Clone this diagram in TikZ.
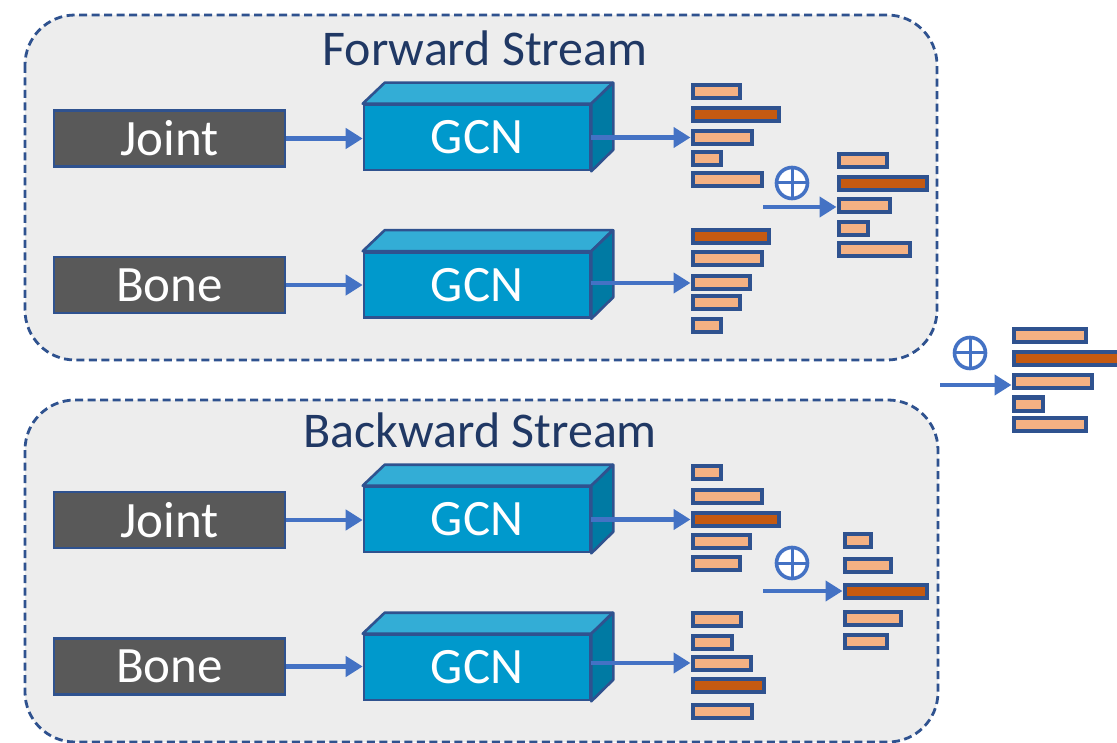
\documentclass[tikz,border=0pt]{standalone}
\usepackage{fontspec}
\setmainfont{Carlito}
\usetikzlibrary{arrows.meta}
\definecolor{framefill}{HTML}{EDEDED}
\definecolor{framedraw}{HTML}{2F528F}
\definecolor{titlecol}{HTML}{203864}
\definecolor{boxgray}{HTML}{595959}
\definecolor{lightbar}{HTML}{F4B183}
\definecolor{darkbar}{HTML}{C55A11}
\definecolor{arrowblue}{HTML}{4472C4}
\definecolor{gcnfront}{HTML}{0099CC}
\definecolor{gcntop}{HTML}{33ADD6}
\definecolor{gcnside}{HTML}{007AA3}
\tikzset{
  streamframe/.style={draw=framedraw, fill=framefill, line width=2.8pt, dash pattern=on 8pt off 4.5pt, rounded corners=50pt},
  streamtitle/.style={text=titlecol, font=\fontsize{50}{60}\selectfont, inner sep=0pt},
  inbox/.style={draw=framedraw, fill=boxgray, line width=2.6pt, minimum width=231pt, minimum height=56pt, inner sep=0pt, text=white, font=\fontsize{51}{60}\selectfont},
  gcnbox/.style={draw=framedraw, fill=gcnfront, line width=2.6pt, minimum width=226pt, minimum height=65pt, inner sep=0pt, text=white, font=\fontsize{51}{60}\selectfont},
  gcntopface/.style={draw=framedraw, fill=gcntop, line width=2.6pt, line join=round},
  gcnsideface/.style={draw=framedraw, fill=gcnside, line width=2.6pt, line join=round},
  lbar/.style={draw=framedraw, fill=lightbar, line width=4pt, minimum height=13pt, inner sep=0pt},
  dbar/.style={lbar, fill=darkbar},
  flow/.style={draw=arrowblue, line width=4.6pt, -{Triangle[length=17pt,width=20pt]}},
  oplus/.style={circle, draw=arrowblue, fill=white, line width=3.6pt, minimum size=31pt, inner sep=0pt,
    path picture={\draw[arrowblue, line width=3pt] (path picture bounding box.north) -- (path picture bounding box.south) (path picture bounding box.west) -- (path picture bounding box.east);}},
}
\begin{document}
\begin{tikzpicture}[x=1pt,y=-1pt]
\useasboundingbox (0,0) rectangle (1117,743);
\fill[white] (0,0) rectangle (1117,743);

% frames
\draw[streamframe] (25,15) rectangle (937,360);
\draw[streamframe] (25,400) rectangle (938,742);
\node[streamtitle] (ftitle) at (485,48) {Forward Stream};
\node[streamtitle] (btitle) at (480,430) {Backward Stream};

% GCN cuboids
\foreach \nm/\cy in {gfj/137.5, gfb/285, gbj/519.5, gbb/667.5}{
  \node[gcnbox] (\nm) at (477,\cy) {GCN};
  \draw[gcntopface] (\nm.north west) -- ++(22,-21) -- ++(228,0) -- (\nm.north east) -- cycle;
  \draw[gcnsideface] (\nm.north east) -- ++(22,-21) -- ++(0,67) -- (\nm.south east) -- cycle;
}

% input boxes
\node[inbox] (fj) at (169.5,138.5) {Joint};
\node[inbox] (fb) at (169.5,285) {Bone};
\node[inbox] (bj) at (169.5,520) {Joint};
\node[inbox] (bb) at (169.5,666.5) {Bone};

% forward joint bars
\node[lbar, minimum width=47pt] (fj1) at (716,91.5) {};
\node[dbar, minimum width=86pt] (fj2) at (735.5,115) {};
\node[lbar, minimum width=59pt] (fj3) at (722,137.5) {};
\node[lbar, minimum width=28pt] (fj4) at (706.5,158.5) {};
\node[lbar, minimum width=69pt] (fj5) at (727,179.5) {};
% forward bone bars
\node[dbar, minimum width=76pt] (fb1) at (730.5,236.5) {};
\node[lbar, minimum width=69pt] (fb2) at (727,259) {};
\node[lbar, minimum width=57pt] (fb3) at (721,283) {};
\node[lbar, minimum width=47pt] (fb4) at (716,303) {};
\node[lbar, minimum width=28pt] (fb5) at (706.5,325.5) {};
% forward combined
\node[lbar, minimum width=48pt] (fc1) at (862.5,161) {};
\node[dbar, minimum width=88pt] (fc2) at (882.5,184) {};
\node[lbar, minimum width=51pt] (fc3) at (864,206) {};
\node[lbar, minimum width=29pt] (fc4) at (853,229) {};
\node[lbar, minimum width=71pt] (fc5) at (874,249.5) {};
% backward joint bars
\node[lbar, minimum width=28pt] (bj1) at (706.5,472) {};
\node[lbar, minimum width=69pt] (bj2) at (727,496.5) {};
\node[dbar, minimum width=86pt] (bj3) at (735.5,519.5) {};
\node[lbar, minimum width=57pt] (bj4) at (721,541) {};
\node[lbar, minimum width=47pt] (bj5) at (716,563.5) {};
% backward bone bars
\node[lbar, minimum width=48pt] (bb1) at (716.5,619) {};
\node[lbar, minimum width=39pt] (bb2) at (712,642) {};
\node[lbar, minimum width=58pt] (bb3) at (721.5,663) {};
\node[dbar, minimum width=71pt] (bb4) at (728,685.5) {};
\node[lbar, minimum width=59pt] (bb5) at (722,711.5) {};
% backward combined
\node[lbar, minimum width=26pt] (bc1) at (857.5,540) {};
\node[lbar, minimum width=46pt] (bc2) at (867.5,565) {};
\node[dbar, minimum width=82pt] (bc3) at (885.5,591) {};
\node[lbar, minimum width=56pt] (bc4) at (872.5,618) {};
\node[lbar, minimum width=42pt] (bc5) at (865.5,641.5) {};
% final
\node[lbar, minimum width=72pt] (f1) at (1049.5,336) {};
\node[dbar, minimum width=107pt] (f2) at (1067,359) {};
\node[lbar, minimum width=78pt] (f3) at (1052.5,381.5) {};
\node[lbar, minimum width=29pt] (f4) at (1028,404) {};
\node[lbar, minimum width=72pt] (f5) at (1049.5,424.5) {};

% oplus symbols
\node[oplus] (pf) at (792,183) {};
\node[oplus] (pb) at (792,563) {};
\node[oplus] (pfin) at (970,353) {};

% arrows
\draw[flow] (fj.east) -- (gfj.west |- fj.east);
\draw[flow] (fb.east) -- (gfb.west |- fb.east);
\draw[flow] (bj.east) -- (gbj.west |- bj.east);
\draw[flow] (bb.east) -- (gbb.west |- bb.east);
\draw[flow] (gfj.east |- fj3.west) -- (fj3.west);
\draw[flow] (gfb.east |- fb3.west) -- (fb3.west);
\draw[flow] (gbj.east |- bj3.west) -- (bj3.west);
\draw[flow] (gbb.east |- bb3.west) -- (bb3.west);
\coordinate (sf) at (763,207);
\coordinate (sb) at (763,591);
\coordinate (sfin) at (940,385);
\draw[flow] (sf) -- (fc3.west |- sf);
\draw[flow] (sb) -- (bc3.west);
\draw[flow] (sfin) -- (f3.west |- sfin);
\end{tikzpicture}
\end{document}
